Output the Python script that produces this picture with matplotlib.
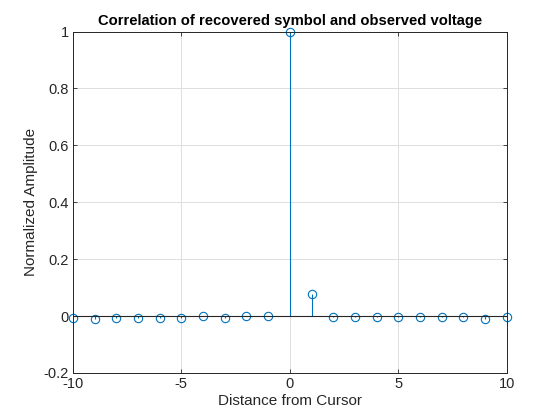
import matplotlib
matplotlib.use('Agg')
import matplotlib.pyplot as plt
import numpy as np

plt.rcParams['font.family'] = ['Liberation Sans', 'DejaVu Sans']

# distance from cursor and normalized correlation
lags = np.arange(-10, 11)
amplitude = [-0.006, -0.010, -0.006, -0.006, -0.006, -0.007, -0.001, -0.006, -0.001, -0.001,
             1.0, 0.076, -0.005, -0.005, -0.005, -0.005, -0.005, -0.005, -0.005, -0.009, -0.005]

xticks = [-10, -5, 0, 5, 10]
yticks = [-0.2, 0, 0.2, 0.4, 0.6, 0.8, 1]
ytick_labels = ['-0.2', '0', '0.2', '0.4', '0.6', '0.8', '1']

blue = '#0072BD'
axcol = '#262626'

fig = plt.figure(figsize=(5.6, 4.2), dpi=100)
ax = fig.add_axes([0.13, 0.112, 0.775, 0.813])

markerline, stemlines, baseline = ax.stem(lags, amplitude, basefmt='-')
plt.setp(stemlines, color=blue, linewidth=0.8)
plt.setp(markerline, marker='o', markersize=6, markerfacecolor='none',
         markeredgecolor=blue, markeredgewidth=0.8)
plt.setp(baseline, color=axcol, linewidth=0.8)
markerline.set_clip_on(False)

ax.set_xlim(-10, 10)
ax.set_ylim(-0.2, 1)
ax.set_xticks(xticks)
ax.set_xticklabels([str(t) for t in xticks])
ax.set_yticks(yticks)
ax.set_yticklabels(ytick_labels)

ax.grid(True, color='#dfdfdf', linewidth=0.7)
ax.set_axisbelow(True)
for s in ax.spines.values():
    s.set_color(axcol)
    s.set_linewidth(0.7)
ax.tick_params(direction='in', length=3, width=0.6, colors=axcol, labelsize=10.5,
               top=True, right=True, pad=3)

ax.set_xlabel('Distance from Cursor', fontsize=11, color=axcol, labelpad=2)
ax.set_ylabel('Normalized Amplitude', fontsize=11, color=axcol, labelpad=4)
ax.set_title('Correlation of recovered symbol and observed voltage',
             fontsize=10.6, fontweight='bold', color='black', pad=5)

fig.savefig('out.png', dpi=100)
